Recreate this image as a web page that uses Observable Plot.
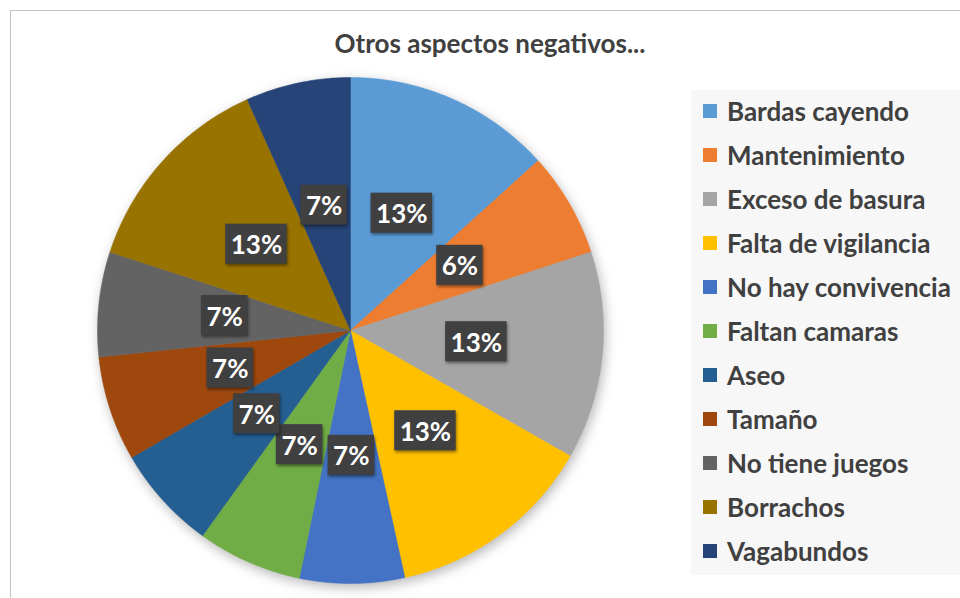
<!DOCTYPE html>
<html>
<head>
<meta charset="utf-8">
<script src="https://cdn.jsdelivr.net/npm/d3@7"></script>
<script src="https://cdn.jsdelivr.net/npm/@observablehq/plot@0.6"></script>
<style>
  html, body { margin: 0; padding: 0; background: #fff; }
  #wrap { position: relative; width: 960px; height: 598px; overflow: hidden; font-family: Lato, "Open Sans", sans-serif; }
  #frame { position: absolute; left: 10px; top: 10px; width: 1000px; height: 1000px; border: 1.5px solid #c4c4c4; box-sizing: border-box; }
  #title { position: absolute; left: 0; width: 980px; top: 27px; text-align: center; font-weight: 700; font-size: 26px; color: #404040; line-height: 32px; }
  #chart { position: absolute; left: 0; top: 0; }
  #legend { position: absolute; left: 691px; top: 90px; width: 300px; height: 485px; background: #f7f7f7; }
  .item { position: absolute; left: 0; height: 30px; display: flex; align-items: center; font-weight: 700; font-size: 26px; color: #404040; white-space: nowrap; }
  .sw { width: 14px; height: 14px; margin-left: 12px; margin-right: 10px; flex: none; }
  .pie { filter: drop-shadow(2px 4px 6px rgba(0,0,0,0.28)); }
  .boxes rect { filter: drop-shadow(1px 2px 1.5px rgba(0,0,0,0.45)); }
</style>
</head>
<body>
<div id="wrap">
  <div id="frame"></div>
  <div id="chart"></div>
  <div id="title"></div>
  <div id="legend"></div>
</div>
<script>
const titleText = "Otros aspectos negativos...";
const categories = ["Bardas cayendo", "Mantenimiento", "Exceso de basura", "Falta de vigilancia", "No hay convivencia", "Faltan camaras", "Aseo", "Tamaño", "No tiene juegos", "Borrachos", "Vagabundos"];
const shares = [13.3, 6.7, 13.3, 13.3, 6.7, 6.7, 6.7, 6.7, 6.7, 13.3, 6.7];
const labels = ["13%", "6%", "13%", "13%", "7%", "7%", "7%", "7%", "7%", "13%", "7%"];
const colors = ["#5B9BD5", "#ED7D31", "#A5A5A5", "#FFC000", "#4472C4", "#70AD47", "#255E91", "#9E480E", "#636363", "#997300", "#264478"];

const rows = categories.map((name, i) => ({name, share: shares[i], label: labels[i]}));
const arcs = d3.pie().sort(null).value(d => d.share)(rows);

// polygon outline of each slice in unit-circle coordinates
const slicePts = [];
arcs.forEach(a => {
  const name = a.data.name;
  slicePts.push({name, x: 0, y: 0});
  const n = Math.max(2, Math.ceil((a.endAngle - a.startAngle) / 0.01));
  for (let k = 0; k <= n; k++) {
    const t = a.startAngle + (a.endAngle - a.startAngle) * k / n;
    slicePts.push({name, x: Math.sin(t), y: Math.cos(t)});
  }
  slicePts.push({name, x: 0, y: 0});
});
const labelPts = arcs.map(a => {
  const m = (a.startAngle + a.endAngle) / 2;
  return {name: a.data.name, label: a.data.label, x: 0.5 * Math.sin(m), y: 0.5 * Math.cos(m)};
});

const chart = Plot.plot({
  width: 960,
  height: 598,
  marginLeft: 97,
  marginRight: 357,
  marginTop: 77,
  marginBottom: 15,
  x: {domain: [-1, 1], axis: null},
  y: {domain: [-1, 1], axis: null},
  color: {domain: categories, range: colors},
  style: {background: "transparent", overflow: "visible"},
  marks: [
    Plot.line(slicePts, {x: "x", y: "y", z: "name", fill: "name", stroke: "name", strokeWidth: 0.5, curve: "linear", className: "pie"}),
    Plot.text(labelPts, {x: "x", y: "y", text: "label", fill: "white", fontWeight: 700, fontSize: 26, fontFamily: "Lato, 'Open Sans', sans-serif", className: "pct"})
  ]
});
document.getElementById("chart").appendChild(chart);

// dark label boxes behind percentage texts
const svgNS = "http://www.w3.org/2000/svg";
const textG = chart.querySelector("g.pct");
const boxG = document.createElementNS(svgNS, "g");
boxG.setAttribute("class", "boxes");
textG.parentNode.insertBefore(boxG, textG);
textG.querySelectorAll("text").forEach(t => {
  const bb = t.getBBox();
  const cy = bb.y + bb.height / 2;
  const r = document.createElementNS(svgNS, "rect");
  const pad = 5;
  r.setAttribute("x", bb.x - pad);
  r.setAttribute("y", cy - 20);
  r.setAttribute("width", bb.width + 2 * pad);
  r.setAttribute("height", 40);
  r.setAttribute("fill", "#404040");
  if (t.getAttribute("transform")) r.setAttribute("transform", t.getAttribute("transform"));
  boxG.appendChild(r);
});

document.getElementById("title").textContent = titleText;
const legend = document.getElementById("legend");
categories.forEach((c, i) => {
  const it = document.createElement("div");
  it.className = "item";
  it.style.top = (21 + 44 * i - 15) + "px";
  const sw = document.createElement("span");
  sw.className = "sw";
  sw.style.background = colors[i];
  const tx = document.createElement("span");
  tx.textContent = c;
  it.appendChild(sw);
  it.appendChild(tx);
  legend.appendChild(it);
});
</script>
</body>
</html>
